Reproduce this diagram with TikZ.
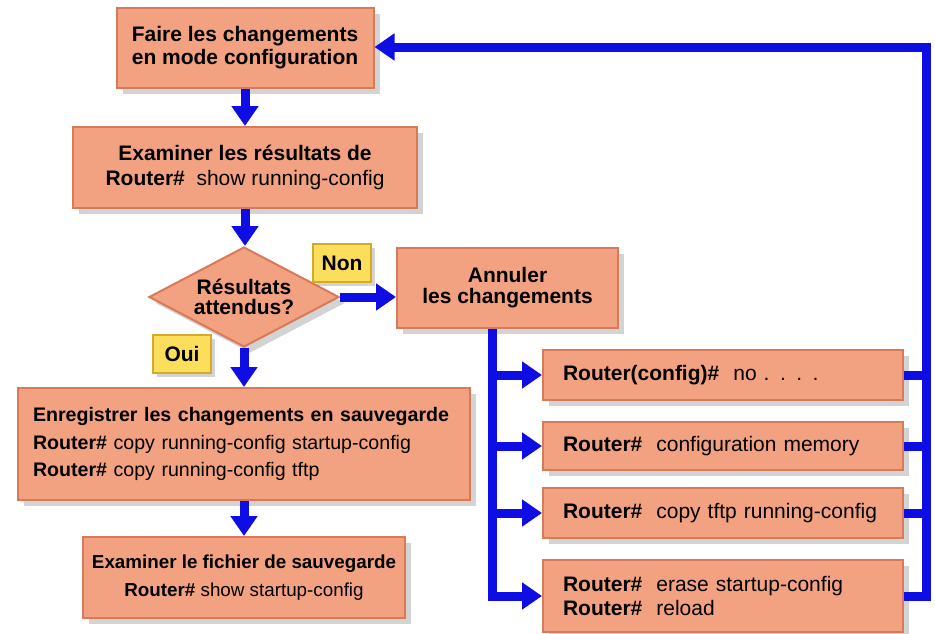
\documentclass[tikz,border=0pt]{standalone}
\usepackage{fontspec}
\setmainfont{Liberation Sans}
\usetikzlibrary{shapes.geometric,shadows,arrows.meta}
\definecolor{boxfill}{RGB}{242,162,128}
\definecolor{boxedge}{RGB}{216,122,90}
\definecolor{tagfill}{RGB}{250,222,92}
\definecolor{tagedge}{RGB}{212,170,40}
\definecolor{flowblue}{RGB}{14,14,228}
\newcommand{\rtr}{\textbf{Router\#}}
\tikzset{
  stepbox/.style={draw=boxedge, line width=1pt, fill=boxfill, inner sep=0pt, align=center,
    font=\fontsize{10.5}{12}\selectfont,
    drop shadow={opacity=0.35, shadow xshift=3pt, shadow yshift=-3pt}},
  cmdbox/.style={stepbox, align=left, inner xsep=10pt, text width=160pt, minimum width=180pt},
  tag/.style={draw=tagedge, line width=0.8pt, fill=tagfill, inner sep=0pt,
    minimum width=29pt, minimum height=19pt, font=\fontsize{10.5}{12}\selectfont\bfseries,
    drop shadow={opacity=0.35, shadow xshift=2pt, shadow yshift=-2pt}},
  bus/.style={draw=flowblue, line width=4.5pt},
  flow/.style={bus, -{Triangle[width=13pt,length=10pt]}}
}
\begin{document}
\begin{tikzpicture}[x=0.5pt,y=-0.5pt]
  \useasboundingbox (0,0) rectangle (935,633);
  % main column
  \node[stepbox, minimum width=128.5pt, minimum height=40pt, font=\fontsize{10.5}{11.5}\selectfont\bfseries]
    (edit) at (245,48) {Faire les changements\\en mode configuration};
  \node[stepbox, minimum width=172pt, minimum height=40.5pt, font=\fontsize{10.5}{12.5}\selectfont]
    (show) at (245,167.5) {\textbf{Examiner les résultats de}\\\rtr{}~ show running-config};
  \node[diamond, draw=boxedge, line width=1pt, fill=boxfill, inner sep=0pt, aspect=1.9,
    minimum width=95pt, minimum height=50pt, align=center, font=\fontsize{10.5}{10}\selectfont\bfseries,
    drop shadow={opacity=0.35, shadow xshift=3pt, shadow yshift=-3pt}]
    (test) at (244,297) {Résultats\\attendus?};
  \node[stepbox, align=left, inner xsep=7.5pt, text width=211pt, minimum height=56pt,
    font=\fontsize{9.8}{13.75}\selectfont]
    (save) at (244,444) {\textbf{Enregistrer les changements en sauvegarde}\\
      \rtr{} copy running-config startup-config\\\rtr{} copy running-config tftp};
  \node[stepbox, minimum width=161pt, minimum height=40.5pt, font=\fontsize{9.4}{14}\selectfont]
    (check) at (244,577.5) {\textbf{Examiner le fichier de sauvegarde}\\\rtr{} show startup-config};
  % undo branch
  \node[stepbox, minimum width=110.5pt, minimum height=40pt, font=\fontsize{10.5}{10.5}\selectfont\bfseries]
    (undo) at (507.5,288) {Annuler\\les changements};
  \node[cmdbox, minimum height=25pt] (ra) at (723,375) {\textbf{Router(config)\#}~ no . . . .};
  \node[cmdbox, minimum height=24pt] (rb) at (723,446) {\rtr{}~ configuration memory};
  \node[cmdbox, minimum height=25pt] (rc) at (723,513) {\rtr{}~ copy tftp running-config};
  \node[cmdbox, minimum height=36pt, font=\fontsize{10.5}{12}\selectfont]
    (rd) at (723,596) {\rtr{}~ erase startup-config\\\rtr{}~ reload};
  \node[tag] (non) at (342,263) {Non};
  \node[tag] (oui) at (182,354) {Oui};
  \coordinate (busL) at (492,597);
  \coordinate (busR) at (926,47);
  % connectors
  \draw[flow] (edit.south) -- (show.north);
  \draw[flow] (show.south) -- (show.south |- test.north);
  \draw[flow] (test.south) -- (save.north);
  \draw[flow] (save.south) -- (check.north);
  \draw[flow] (test.east) -- (test.east -| undo.west);
  \draw[flow] (undo.south -| busL) -- (busL |- rd.west) -- (rd.west);
  \foreach \b in {ra,rb,rc}{\draw[flow] (busL |- \b.west) -- (\b.west);}
  \foreach \b in {ra,rb,rc}{\draw[bus] (\b.east) -- (busR |- \b.east);}
  \draw[flow] (rd.east) -- (busR |- rd.east) -- (busR) -- (busR -| edit.east);
\end{tikzpicture}
\end{document}
